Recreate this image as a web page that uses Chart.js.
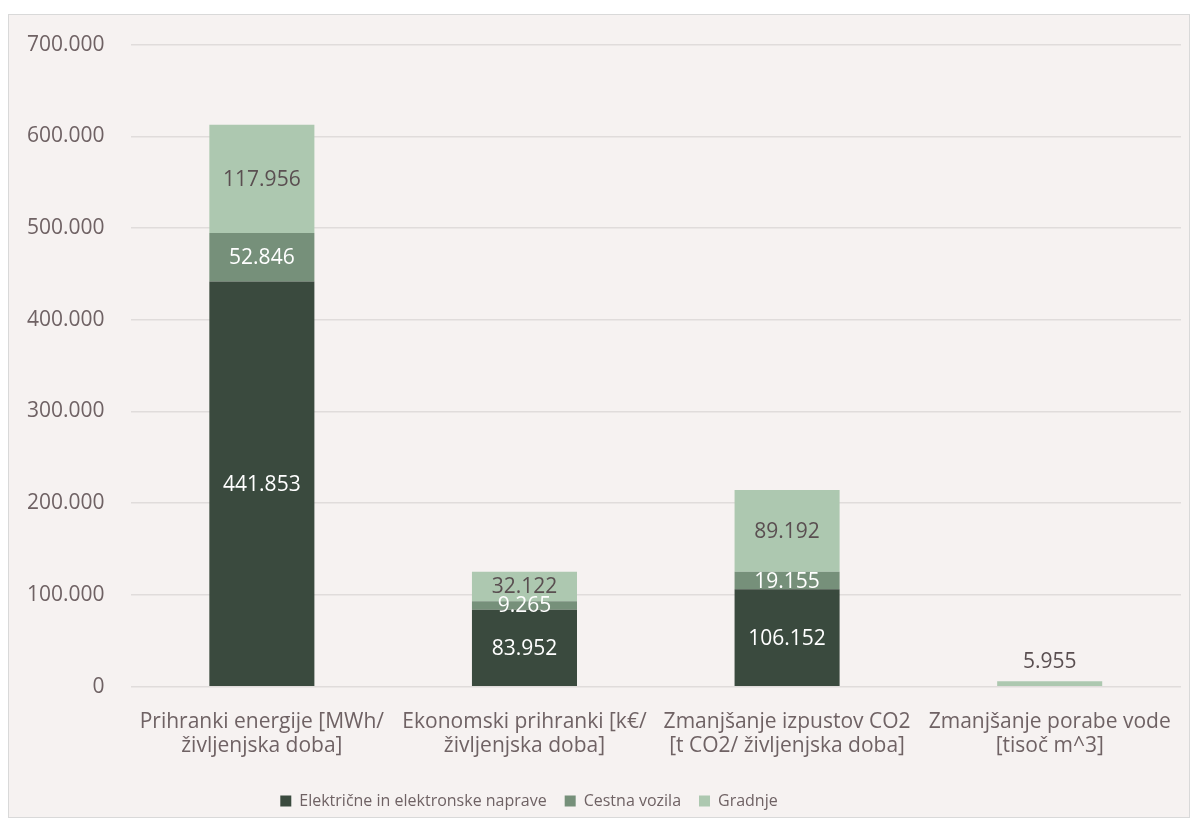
<!DOCTYPE html>
<html lang="sl">
<head>
  <meta charset="UTF-8">
  <title>Prihranki po skupinah</title>
  <script src="https://cdn.jsdelivr.net/npm/chart.js"></script>
  <style>
    html, body { margin: 0; background: #ffffff; }
    .box {
      position: absolute; left: 8px; top: 14px;
      width: 1180px; height: 802px;
      border: 1px solid #d9d9d9; background: #f6f2f1;
    }
  </style>
</head>
<body>
  <div class="box"><canvas id="savingsChart" width="1180" height="802"></canvas></div>

  <script>
    const categories = [
      ["Prihranki energije [MWh/", "življenjska doba]"],
      ["Ekonomski prihranki [k€/", "življenjska doba]"],
      ["Zmanjšanje izpustov CO2", "[t CO2/ življenjska doba]"],
      ["Zmanjšanje porabe vode", "[tisoč m^3]"]
    ];
    const seriesNames = ["Električne in elektronske naprave", "Cestna vozila", "Gradnje"];
    const naprave = [441853, 83952, 106152, 0];
    const vozila = [52846, 9265, 19155, 0];
    const gradnje = [117956, 32122, 89192, 5955];

    const textColor = "#6f6264";
    const fontFamily = "'Open Sans', 'Noto Sans', sans-serif";

    function fmt(v) {
      return String(Math.round(v)).replace(/\B(?=(\d{3})+(?!\d))/g, ".");
    }

    // value labels inside each stacked segment
    const segmentLabels = {
      id: "segmentLabels",
      afterDatasetsDraw(chart) {
        const ctx = chart.ctx;
        ctx.save();
        ctx.font = "21px " + fontFamily;
        ctx.textAlign = "center";
        ctx.textBaseline = "middle";
        chart.data.datasets.forEach((ds, di) => {
          const meta = chart.getDatasetMeta(di);
          meta.data.forEach((bar, i) => {
            const v = ds.data[i];
            if (!v) return;
            const h = Math.abs(bar.base - bar.y);
            let y = (bar.y + bar.base) / 2;
            if (h < 7) y = bar.y - 20;
            ctx.fillStyle = ds.labelColor;
            ctx.fillText(fmt(v), bar.x, y + 1);
          });
        });
        ctx.restore();
      }
    };

    // legend sits a little left of centre and lower, below the axis labels
    const legendShift = {
      id: "legendShift",
      afterLayout(chart) {
        const lg = chart.legend;
        if (!lg) return;
        lg.left -= 75; lg.right -= 75;
        lg.top += 12; lg.bottom += 12;
      }
    };

    new Chart(document.getElementById("savingsChart"), {
      type: "bar",
      data: {
        labels: categories,
        datasets: [
          { label: seriesNames[0], data: naprave, backgroundColor: "#3a4a3e", labelColor: "#ffffff" },
          { label: seriesNames[1], data: vozila, backgroundColor: "#76907a", labelColor: "#ffffff" },
          { label: seriesNames[2], data: gradnje, backgroundColor: "#adc8b0", labelColor: "#5a4f51" }
        ]
      },
      options: {
        responsive: false,
        animation: false,
        layout: { padding: { top: 4, right: 8, left: 18, bottom: 10 } },
        datasets: { bar: { categoryPercentage: 0.8, barPercentage: 0.5 } },
        scales: {
          x: {
            stacked: true,
            afterFit(scale) { scale.height -= 10; },
            grid: { display: false },
            border: { display: false },
            ticks: { color: textColor, font: { family: fontFamily, size: 21, lineHeight: 1.15 }, maxRotation: 0, padding: 15 }
          },
          y: {
            stacked: true,
            min: 0, max: 700000,
            afterFit(scale) { scale.width -= 26; scale.paddingTop -= 9; },
            ticks: {
              stepSize: 100000, color: textColor, padding: 26,
              font: { family: fontFamily, size: 21 },
              callback: v => fmt(v)
            },
            grid: { color: "#e0dcdb", lineWidth: 1.5, drawTicks: false },
            border: { display: false }
          }
        },
        plugins: {
          legend: {
            position: "bottom",
            labels: {
              color: textColor, boxWidth: 11, boxHeight: 11, padding: 18,
              font: { family: fontFamily, size: 16 }
            }
          },
          tooltip: { enabled: false }
        }
      },
      plugins: [segmentLabels, legendShift]
    });
  </script>
</body>
</html>
